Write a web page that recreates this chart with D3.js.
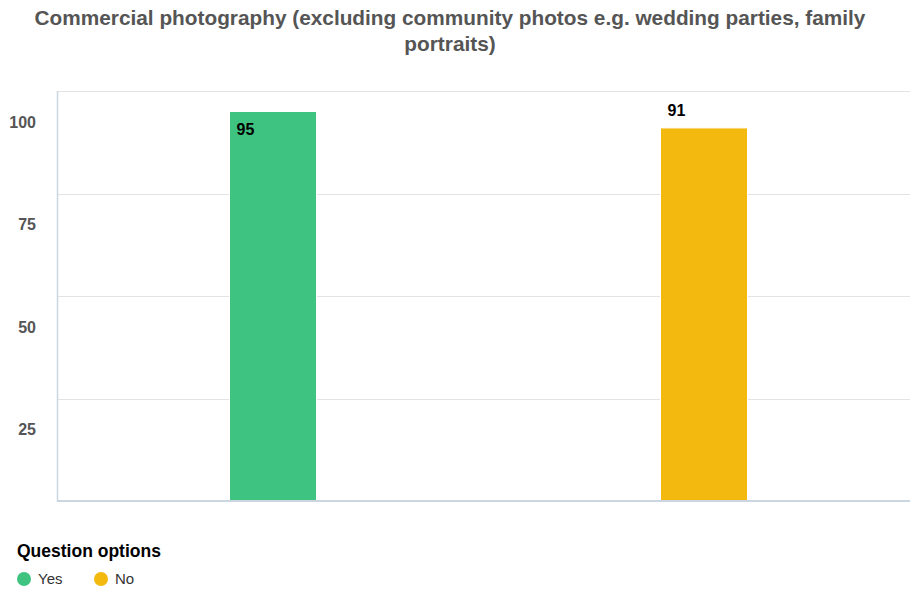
<!DOCTYPE html>
<html>
<head>
<meta charset="utf-8">
<script src="https://cdn.jsdelivr.net/npm/d3@7"></script>
<style>
  html, body { margin: 0; padding: 0; background: #fff; }
  svg { display: block; font-family: "Liberation Sans", Arial, Helvetica, sans-serif; }
</style>
</head>
<body>
<svg id="chart" width="910" height="589"></svg>
<script>
// Survey answers for the question
const categories = ["Yes", "No"];
const values = [95, 91];
const colors = ["#3fc380", "#f3b90f"];
const yTicks = [25, 50, 75, 100];
const titleLines = [
  "Commercial photography (excluding community photos e.g. wedding parties, family",
  "portraits)"
];
const legendTitle = "Question options";

const svg = d3.select("#chart");
const plot = { left: 58, right: 910, top: 91, bottom: 501 };

// Title
svg.append("g")
  .selectAll("text")
  .data(titleLines)
  .join("text")
  .attr("x", 450)
  .attr("y", (d, i) => 25 + i * 26)
  .attr("text-anchor", "middle")
  .attr("font-size", 20.8)
  .attr("font-weight", "bold")
  .attr("fill", "#555555")
  .text(d => d);

// Scales
const y = d3.scaleLinear().domain([0, 100]).range([plot.bottom, plot.top]);
const x = d3.scaleBand().domain(categories).range([57.5, 919.5]).padding(0);
const barW = 87;

// Horizontal gridlines
svg.append("g")
  .selectAll("line")
  .data(yTicks)
  .join("line")
  .attr("x1", plot.left).attr("x2", plot.right)
  .attr("y1", d => Math.round(y(d)) + 0.5)
  .attr("y2", d => Math.round(y(d)) + 0.5)
  .attr("stroke", "#e3e3e3")
  .attr("stroke-width", 1);

// Y tick labels, drawn beneath their gridlines
const yAxis = d3.axisLeft(y).tickValues(yTicks).tickSize(0).tickPadding(0);
const yAxisG = svg.append("g")
  .attr("transform", `translate(${36},${31})`)
  .call(yAxis);
yAxisG.select(".domain").remove();
yAxisG.selectAll("text")
  .attr("font-family", "'Liberation Sans', Arial, sans-serif")
  .attr("font-size", 16)
  .attr("font-weight", "bold")
  .attr("fill", "#555555");

// Bars
svg.append("g")
  .selectAll("rect")
  .data(categories)
  .join("rect")
  .attr("x", (d) => x(d) + x.bandwidth() / 2 - barW / 2)
  .attr("y", (d, i) => y(values[i]))
  .attr("width", barW)
  .attr("height", (d, i) => y(0) - y(values[i]))
  .attr("fill", (d, i) => colors[i])
  .attr("stroke", "#ffffff")
  .attr("stroke-width", 1);

// Value labels: above the bar if there is room, otherwise inside near its top
svg.append("g")
  .selectAll("text")
  .data(categories)
  .join("text")
  .attr("x", (d) => x(d) + x.bandwidth() / 2 - barW / 2 + 7)
  .attr("y", (d, i) => {
    const top = y(values[i]);
    const above = top - 18;
    return (above - 8 < plot.top) ? top + 18 : above;
  })
  .attr("dy", "0.35em")
  .attr("font-size", 16)
  .attr("font-weight", "bold")
  .attr("fill", "#000000")
  .text((d, i) => values[i]);

// Axis lines
svg.append("line")
  .attr("x1", plot.left - 0.5).attr("x2", plot.left - 0.5)
  .attr("y1", plot.top).attr("y2", plot.bottom + 1)
  .attr("stroke", "#ccd6e0").attr("stroke-width", 1.5);
svg.append("line")
  .attr("x1", plot.left - 1).attr("x2", plot.right)
  .attr("y1", plot.bottom).attr("y2", plot.bottom)
  .attr("stroke", "#ccd6e0").attr("stroke-width", 2);

// Legend
svg.append("text")
  .attr("x", 17).attr("y", 557)
  .attr("font-size", 17.5)
  .attr("font-weight", "bold")
  .attr("fill", "#000")
  .text(legendTitle);

const legendX = [24, 101];
const legend = svg.append("g")
  .selectAll("g")
  .data(categories)
  .join("g")
  .attr("transform", (d, i) => `translate(${legendX[i]},579)`);
legend.append("circle")
  .attr("r", 7)
  .attr("fill", (d, i) => colors[i]);
legend.append("text")
  .attr("x", 14)
  .attr("dy", "0.35em")
  .attr("font-size", 15)
  .attr("fill", "#333333")
  .text(d => d);
</script>
</body>
</html>
